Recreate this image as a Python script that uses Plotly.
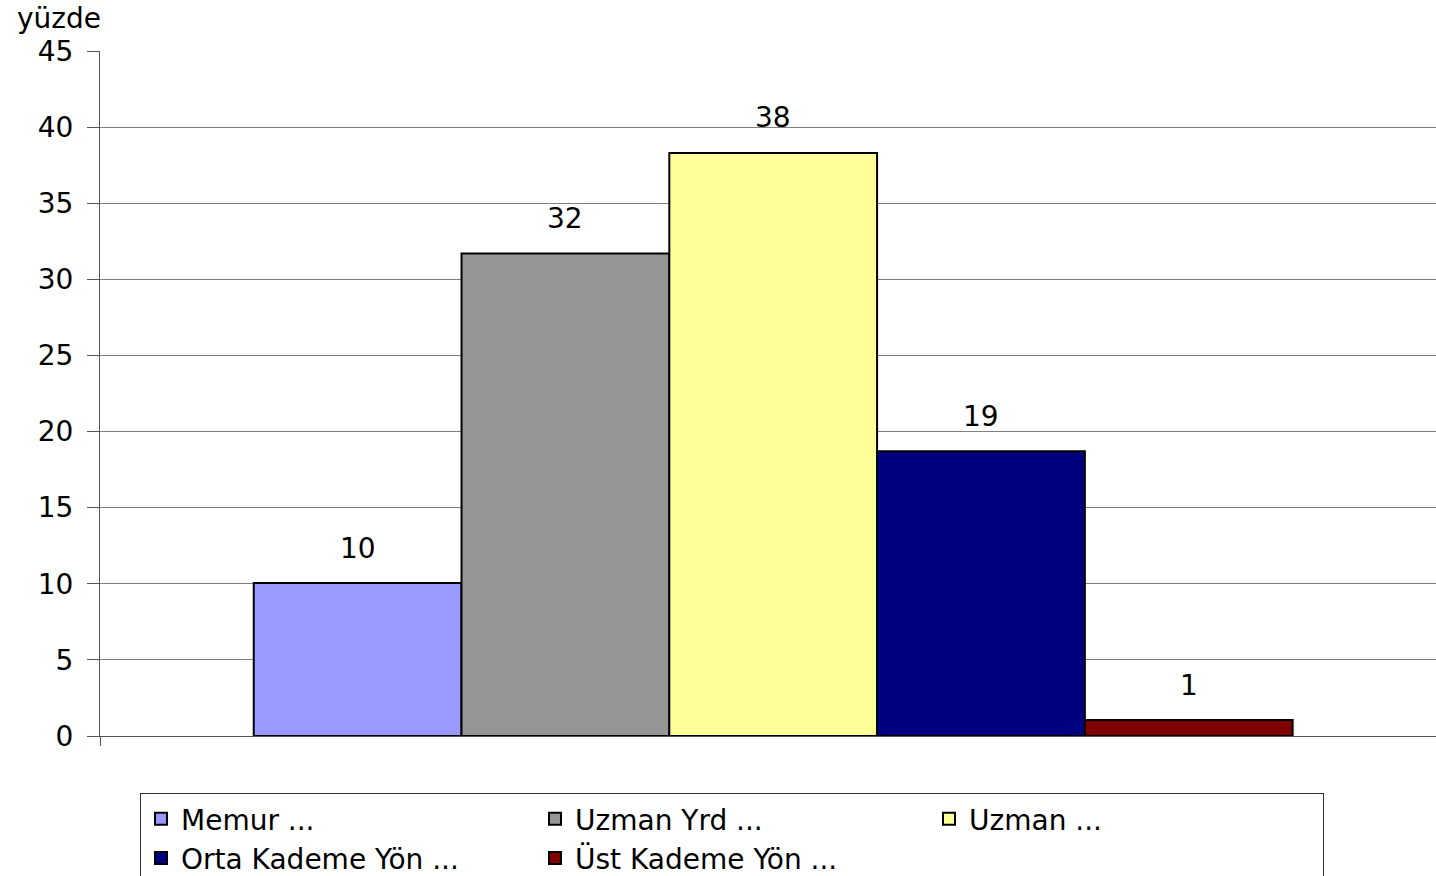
import plotly.graph_objects as go

series_names = ["Memur ...", "Uzman Yrd ...", "Uzman ...", "Orta Kademe Yön ...", "Üst Kademe Yön ..."]
series_values = [10.05, 31.7, 38.3, 18.7, 1.05]
series_colors = ["#9999FF", "#969696", "#FFFF99", "#000080", "#800000"]
y_ticks = [0, 5, 10, 15, 20, 25, 30, 35, 40, 45]
y_title = "yüzde"

FONT = "DejaVu Sans, Liberation Sans, Arial, sans-serif"
FS = 28
X_RANGE = [-1.24, 5.19]

fig = go.Figure()
for i, (name, val, col) in enumerate(zip(series_names, series_values, series_colors)):
    fig.add_trace(go.Bar(
        x=[i], y=[val], name=name, width=1,
        marker=dict(color=col, line=dict(color="black", width=2)),
        hoverinfo="name+y",
    ))
    fig.add_annotation(
        x=i, y=val, xref="x", yref="y", text=f"{val:.0f}",
        showarrow=False, yanchor="middle", yshift=35,
        font=dict(family=FONT, size=FS, color="black"),
    )

fig.update_layout(
    width=1436, height=876,
    margin=dict(l=100, r=0, t=51, b=140),
    paper_bgcolor="white", plot_bgcolor="white",
    barmode="overlay", hovermode=False,
    font=dict(family=FONT, size=FS, color="black"),
    showlegend=True,
    legend=dict(
        orientation="h", xref="container", yref="container",
        x=140 / 1436, xanchor="left", y=1 - 793 / 876, yanchor="top",
        entrywidth=349, entrywidthmode="pixels",
        bordercolor="#333333", borderwidth=1, bgcolor="white",
        font=dict(family=FONT, size=FS, color="black"),
        traceorder="normal", tracegroupgap=0,
    ),
    xaxis=dict(
        range=X_RANGE, automargin=False,
        showline=True, linecolor="#555555", linewidth=1,
        showgrid=False, showticklabels=False,
        tickvals=[X_RANGE[0]], ticks="outside", ticklen=9, tickcolor="#555555",
        zeroline=False, fixedrange=True,
    ),
    yaxis=dict(
        range=[0, 45], tickvals=y_ticks, automargin=False,
        showgrid=True, gridcolor="#808080", gridwidth=1,
        showline=True, linecolor="#555555", linewidth=1,
        ticks="outside", ticklen=12, tickcolor="#555555",
        tickfont=dict(family=FONT, size=FS, color="black"),
        zeroline=False, ticklabelstandoff=8, fixedrange=True,
    ),
    annotations=list(fig.layout.annotations) + [dict(
        text=y_title, xref="paper", yref="paper",
        x=(15 - 100) / 1336, y=1 + (51 - 18) / 685,
        xanchor="left", yanchor="middle", showarrow=False,
        font=dict(family=FONT, size=FS, color="black"),
    )],
)

fig.write_html(
    "out.html",
    config={"displayModeBar": False},
    post_script="document.body.style.margin='0';document.body.style.overflow='hidden';",
)
